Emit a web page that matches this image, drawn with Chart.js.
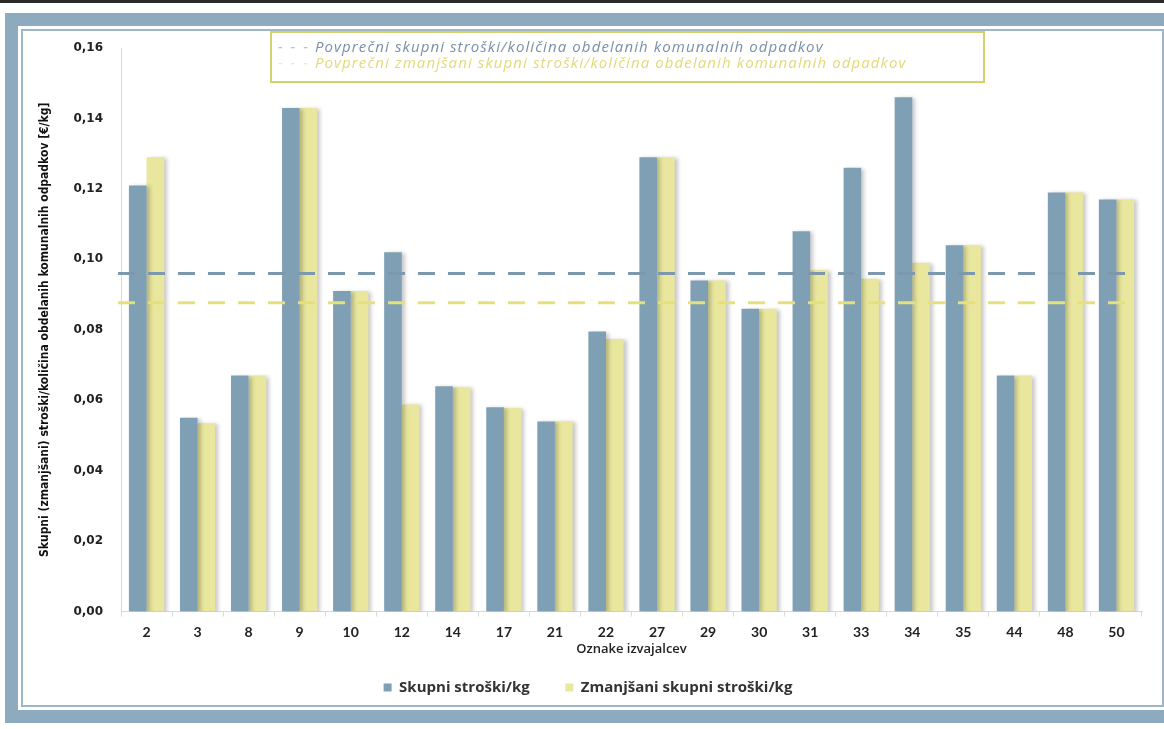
<!DOCTYPE html>
<html>
<head>
<meta charset="utf-8">
<script src="https://cdn.jsdelivr.net/npm/chart.js@4"></script>
<style>
  html, body { margin: 0; padding: 0; background: #fff; overflow: hidden; }
  body { width: 1164px; height: 729px; position: relative; }
  .topstrip { position: absolute; left: 0; top: 0; width: 1164px; height: 3px; background: #2a2a2a; }
  .frame { position: absolute; left: 5px; top: 13px; width: 1175px; height: 710px;
           box-sizing: border-box; border: 13px solid #8eaabe; }
  .frame-inner { position: absolute; left: 3px; top: 3px; right: 3px; bottom: 3px;
                 border: 2px solid #9fb6c7; }
  #chart { position: absolute; left: 0; top: 0; }
  .avgbox { position: absolute; left: 270px; top: 31px; width: 711px; height: 43px;
            border: 2px solid #d3d16c; font-family: "Open Sans", sans-serif; font-style: italic;
            font-size: 15px; line-height: 16px; letter-spacing: 1.1px; padding-top: 5px; box-sizing: content-box; }
  .avgbox div { padding-left: 6px; white-space: nowrap; }
  .l1 { color: #7b90a6; }
  .l2 { color: #e2da78; }
  .dash { letter-spacing: 2px; opacity: 0.55; }
</style>
</head>
<body>
<div class="topstrip"></div>
<div class="frame"><div class="frame-inner"></div></div>
<canvas id="chart" width="1164" height="729"></canvas>
<div class="avgbox">
  <div class="l1"><span class="dash">- - -</span> Povprečni skupni stroški/količina obdelanih komunalnih odpadkov</div>
  <div class="l2"><span class="dash">- - -</span> Povprečni zmanjšani skupni stroški/količina obdelanih komunalnih odpadkov</div>
</div>
<script>
// Oznake izvajalcev
const labels = ['2', '3', '8', '9', '10', '12', '14', '17', '21', '22',
                '27', '29', '30', '31', '33', '34', '35', '44', '48', '50'];

// Skupni stroški/kg
const skupni = [0.121, 0.055, 0.067, 0.143, 0.091, 0.102, 0.064, 0.058, 0.054, 0.0795,
                0.129, 0.094, 0.086, 0.108, 0.126, 0.146, 0.104, 0.067, 0.119, 0.117];

// Zmanjšani skupni stroški/kg
const zmanjsani = [0.129, 0.0535, 0.067, 0.143, 0.091, 0.0588, 0.0637, 0.0578, 0.054, 0.0774,
                   0.129, 0.094, 0.086, 0.097, 0.0945, 0.099, 0.104, 0.067, 0.119, 0.117];

// povprečja (vodoravni črtkani črti)
const avgSkupni = 0.096;
const avgZmanjsani = 0.0877;

const yTicks = [0, 0.02, 0.04, 0.06, 0.08, 0.10, 0.12, 0.14, 0.16];

const BLUE = '#7f9fb5';
const YELLOW = '#e9e79e';

// senca za stolpce
const barShadow = {
    id: 'barShadow',
    beforeDatasetDraw(chart) {
        const ctx = chart.ctx;
        ctx.save();
        ctx.shadowColor = 'rgba(0,0,0,0.22)';
        ctx.shadowBlur = 4;
        ctx.shadowOffsetX = 3;
        ctx.shadowOffsetY = 1;
    },
    afterDatasetDraw(chart) {
        chart.ctx.restore();
    }
};

// povprečni črti čez celo območje grafa
const avgLines = {
    id: 'avgLines',
    afterDatasetsDraw(chart) {
        const { ctx, chartArea, scales } = chart;
        [[avgSkupni, '#7b98ad'], [avgZmanjsani, '#e6e07c']].forEach(([val, col]) => {
            const py = scales.y.getPixelForValue(val);
            ctx.save();
            ctx.strokeStyle = col;
            ctx.lineWidth = 3;
            ctx.setLineDash([17, 13]);
            ctx.beginPath();
            ctx.moveTo(chartArea.left - 3, py);
            ctx.lineTo(chartArea.right - 6, py);
            ctx.stroke();
            ctx.restore();
        });
    }
};

new Chart(document.getElementById('chart'), {
    type: 'bar',
    data: {
        labels: labels,
        datasets: [
            {
                label: 'Skupni stroški/kg',
                data: skupni,
                backgroundColor: BLUE,
                borderWidth: 0,
                categoryPercentage: 0.69,
                barPercentage: 1.0
            },
            {
                label: 'Zmanjšani skupni stroški/kg',
                data: zmanjsani,
                backgroundColor: YELLOW,
                borderWidth: 0,
                categoryPercentage: 0.69,
                barPercentage: 1.0
            }
        ]
    },
    options: {
        responsive: false,
        animation: false,
        layout: { padding: { left: 34, right: 22, top: 48, bottom: 24 } },
        plugins: {
            tooltip: { enabled: false },
            legend: {
                position: 'bottom',
                labels: {
                    boxWidth: 8,
                    boxHeight: 8,
                    padding: 20,
                    color: '#333',
                    font: { family: 'Open Sans', weight: 'bold', size: 15 },
                    generateLabels: chart => {
                        const items = Chart.defaults.plugins.legend.labels.generateLabels(chart);
                        items[0].text += '\u00a0\u00a0\u00a0\u00a0';
                        return items;
                    }
                }
            }
        },
        scales: {
            x: {
                grid: { drawOnChartArea: false, tickLength: 5, color: '#dcdcdc', offset: true },
                border: { color: '#d8d8d8' },
                ticks: {
                    padding: 7,
                    color: '#222',
                    font: { family: 'Lato', weight: 'bold', size: 14 }
                },
                title: {
                    display: true,
                    text: 'Oznake izvajalcev',
                    color: '#222',
                    padding: { top: -6, bottom: 3 },
                    font: { family: 'Open Sans', weight: '600', size: 13 }
                }
            },
            y: {
                min: 0,
                max: 0.16,
                afterBuildTicks: scale => { scale.ticks = yTicks.map(v => ({ value: v })); },
                afterFit: scale => { scale.width = 87; },
                grid: { display: false },
                border: { display: true, color: '#d8d8d8' },
                ticks: {
                    padding: 10,
                    color: '#222',
                    font: { family: 'DejaVu Sans', weight: 'bold', size: 12 },
                    callback: v => v.toFixed(2).replace('.', ',')
                },
                title: {
                    display: true,
                    text: 'Skupni (zmanjšani) stroški/količina obdelanih komunalnih odpadkov [€/kg]',
                    color: '#111',
                    padding: { top: 4, bottom: 4 },
                    font: { family: '"Liberation Sans Narrow", "DejaVu Sans Condensed", sans-serif', weight: 'bold', size: 12 }
                }
            }
        }
    },
    plugins: [barShadow, avgLines]
});
</script>
</body>
</html>
